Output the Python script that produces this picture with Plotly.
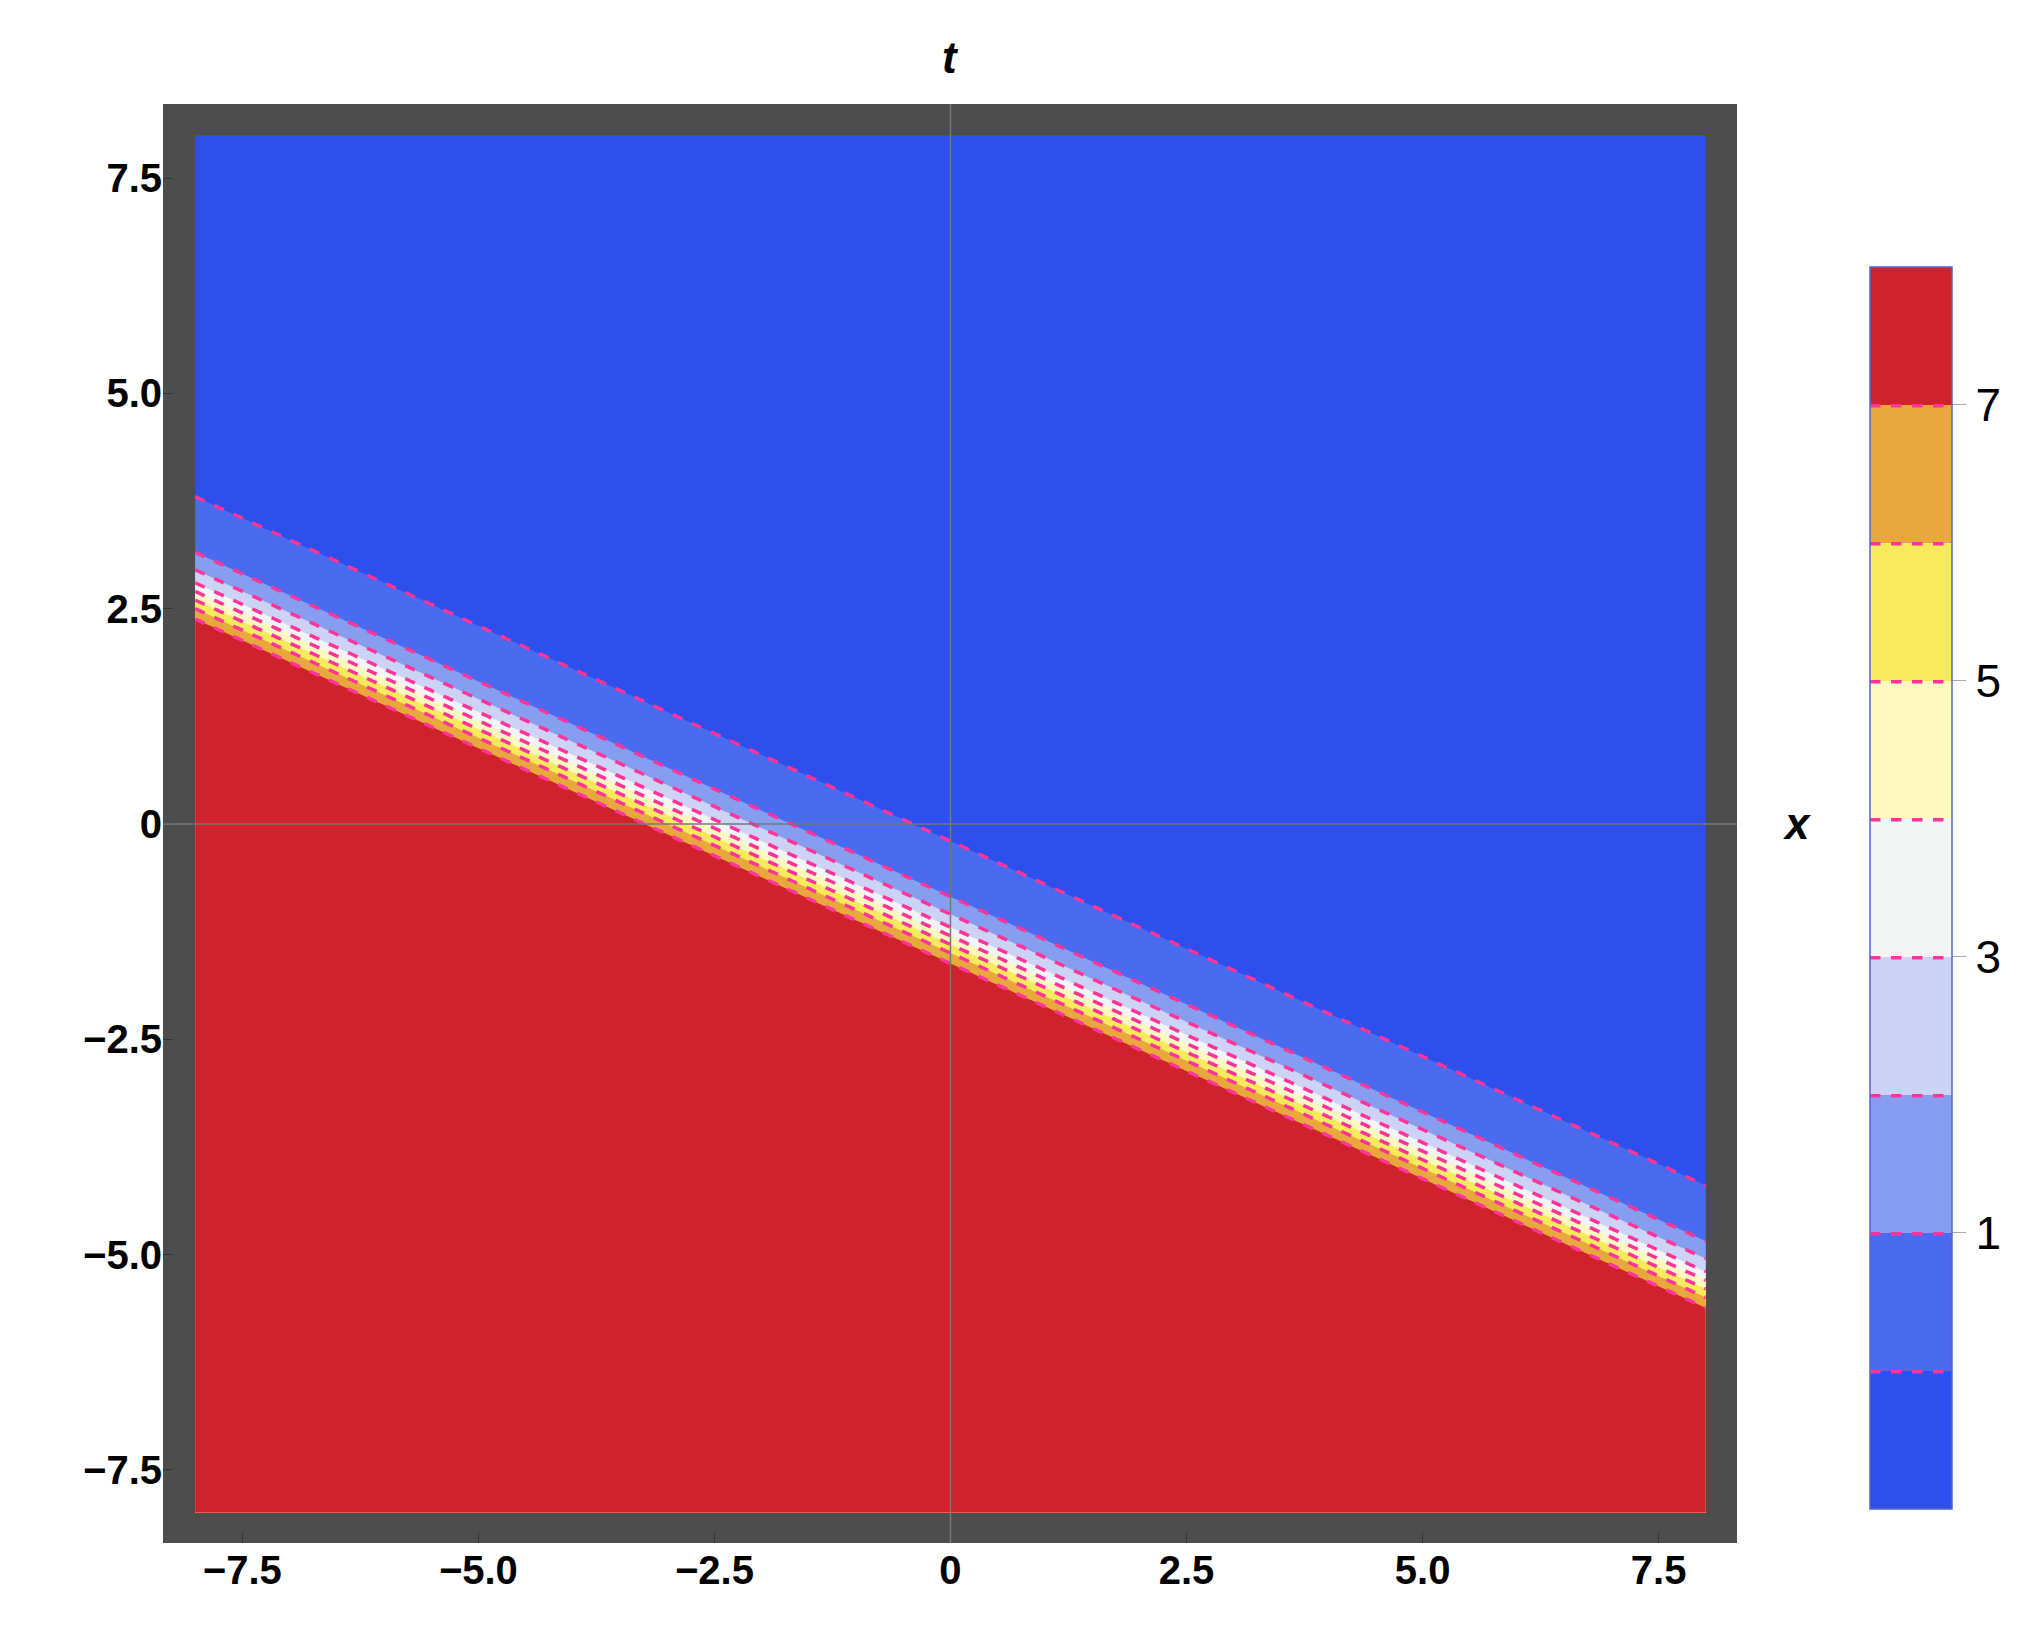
import numpy as np
import plotly.graph_objects as go

# positions (in s = x + 0.5 t) where the field crosses each contour level
level_vals = [0, 1, 2, 3, 4, 5, 6, 7]
level_pos = [-0.2, -0.85, -1.05, -1.2, -1.3, -1.4, -1.5, -1.62]
slope = 0.5
band_colors = ["#2e4fec", "#4a6af0", "#879ef0", "#ccd3f5", "#f3f4f4",
               "#fdf9c0", "#f7ea5c", "#e8a83e", "#d0222c"]
tick_vals = [-7.5, -5.0, -2.5, 0, 2.5, 5.0, 7.5]
tick_text = ["−7.5", "−5.0", "−2.5", "0", "2.5", "5.0", "7.5"]

t = np.linspace(-8, 8, 401)
x = np.linspace(-8, 8, 801)
T, X = np.meshgrid(t, x)
S = X + slope * T
# extend beyond level 0 / level 7 so the outer bands fill
pos = [3.0] + level_pos + [-3.0]
vals = [-1] + level_vals + [8]
U = np.interp(-S, [-p for p in pos], vals)

n = len(band_colors)
cs = []
for i, c in enumerate(band_colors):
    cs.append([i / n, c])
    cs.append([(i + 1) / n, c])

fig = go.Figure(go.Contour(
    x=t, y=x, z=U, zmin=-1, zmax=8, colorscale=cs,
    contours=dict(start=0, end=7, size=1, coloring="fill"),
    line=dict(color="#ff3399", width=3.5, dash="dash"),
    colorbar=dict(x=1.078, xanchor="left", y=0.4555, yanchor="middle", len=0.877,
                  thickness=82, outlinewidth=1.5, outlinecolor="#5566cc",
                  tickvals=[1, 3, 5, 7], ticks="outside", ticklen=14,
                  tickcolor="#aaaaaa", tickfont=dict(size=46, family="Liberation Sans", color="black")),
    hoverinfo="skip",
))

axis_common = dict(tickvals=tick_vals, ticktext=tick_text, showgrid=False,
                   zeroline=False, ticks="inside", ticklen=10, tickcolor="#333333",
                   tickfont=dict(size=40, family="Liberation Sans", color="black", weight="bold"),
                   showline=False)
fig.update_xaxes(range=[-8.34, 8.33], **axis_common)
fig.update_yaxes(range=[-8.35, 8.36], **axis_common)

# axis lines through the origin, drawn over the filled contours
fig.add_shape(type="line", xref="x", yref="paper", x0=0, x1=0, y0=0, y1=1,
              line=dict(color="#777777", width=1.5), layer="above")
fig.add_shape(type="line", xref="paper", yref="y", x0=0, x1=1, y0=0, y1=0,
              line=dict(color="#777777", width=1.5), layer="above")

fig.update_layout(
    width=2026, height=1640, paper_bgcolor="white", plot_bgcolor="#4d4d4d",
    margin=dict(l=155, r=297, t=96, b=105),
    font=dict(family="Liberation Sans"),
    annotations=[
        dict(text="<b><i>t</i></b>", x=0.5, y=1.0, xref="paper", yref="paper",
             yanchor="bottom", yshift=20, showarrow=False, font=dict(size=44, color="black")),
        dict(text="<b><i>x</i></b>", x=1.0, y=0.5, xref="paper", yref="paper",
             xanchor="center", xshift=60, showarrow=False, font=dict(size=44, color="black")),
    ],
)
fig.write_html("out.html")
